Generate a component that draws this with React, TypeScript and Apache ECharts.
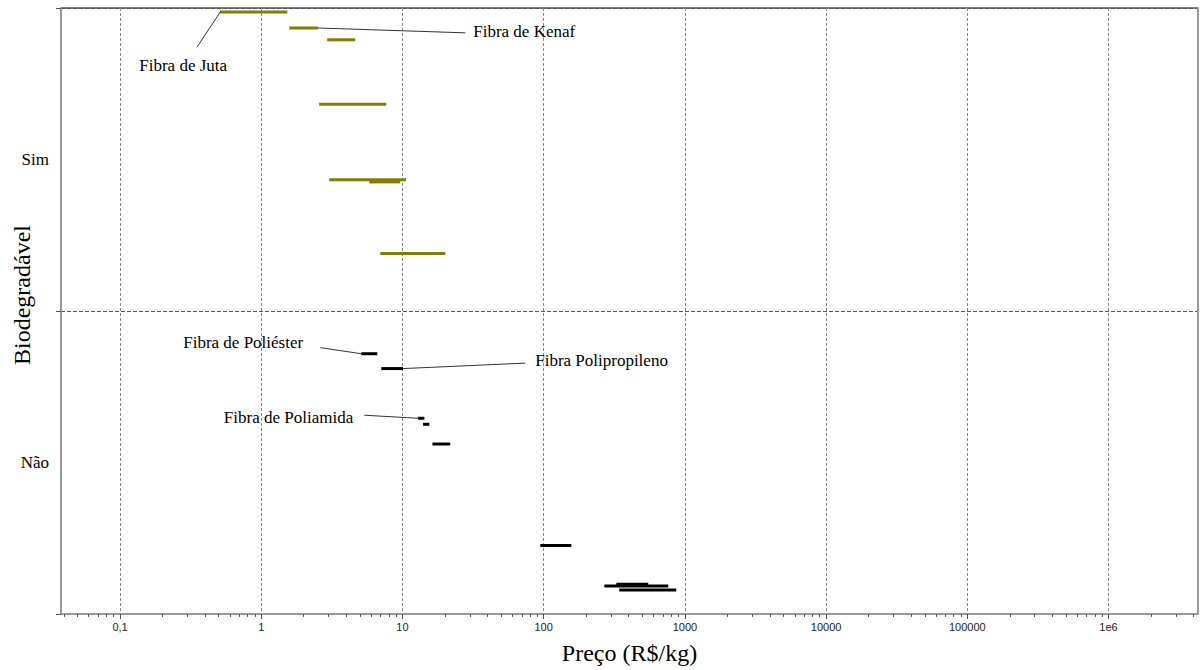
import React, { useEffect, useRef } from "react";
import * as echarts from "echarts";

// ---- data ----
const majorTicks = [0.1, 1, 10, 100, 1000, 10000, 100000, 1000000];
const minorMultipliers = [2, 3, 4, 5, 6, 7, 8, 9];
const minorDecades = [0.01, 0.1, 1, 10, 100, 1000, 10000, 100000, 1000000];
const yCategories = ["Não", "Sim"];

// Biodegradable fibres (Sim)
const bioLow = [0.51, 1.58, 2.93, 2.57, 3.03, 5.82, 6.96];
const bioHigh = [1.53, 2.53, 4.63, 7.68, 10.6, 9.64, 20.1];
const bioLevel = [1.987, 1.934, 1.895, 1.682, 1.433, 1.426, 1.19];

// Non-biodegradable fibres (Não)
const nonBioLow = [5.11, 7.08, 12.9, 14.0, 16.3, 94.6, 269, 327, 343];
const nonBioHigh = [6.63, 10.1, 14.3, 15.5, 21.8, 157, 763, 550, 869];
const nonBioLevel = [0.859, 0.81, 0.646, 0.626, 0.561, 0.226, 0.092, 0.098, 0.079];

// Annotations
const annotNames = ["Fibra de Juta", "Fibra de Kenaf", "Fibra de Poliéster", "Fibra Polipropileno", "Fibra de Poliamida"];
const annotTextX = [0.28, 31.7, 1.98, 87.1, 4.48];
const annotTextY = [1.81, 1.921, 0.895, 0.836, 0.649];
const annotFromX = [0.352, 27.9, 2.62, 74.0, 5.36];
const annotFromY = [1.872, 1.918, 0.879, 0.828, 0.656];
const annotToX = [0.513, 2.53, 5.11, 10.1, 12.9];
const annotToY = [1.987, 1.934, 0.859, 0.81, 0.646];
const annotAlign = ["center", "left", "right", "left", "right"];

const minorTicks: number[] = [];
minorDecades.forEach((d) => minorMultipliers.forEach((m) => minorTicks.push(m * d)));

const X_MIN = 0.0382;
const X_MAX = 4.3e6;

function fmt(v: number): string {
  if (Math.abs(v - 0.1) < 1e-9) return "0,1";
  if (Math.abs(v - 1e6) < 1) return "1e6";
  return String(Math.round(v));
}

function barRender(color: string) {
  return (params: any, api: any) => {
    const p1 = api.coord([api.value(0), api.value(2)]);
    const p2 = api.coord([api.value(1), api.value(2)]);
    return {
      type: "line",
      shape: { x1: p1[0], y1: p1[1], x2: p2[0], y2: p2[1] },
      style: { stroke: color, lineWidth: 3 },
    };
  };
}

export default function App() {
  const ref = useRef<HTMLDivElement>(null);
  useEffect(() => {
    if (!ref.current) return;
    const chart = echarts.init(ref.current, undefined, { renderer: "svg" });
    const serif = "Liberation Serif";
    const option: any = {
      animation: false,
      backgroundColor: "#fff",
      grid: { left: 61, right: 2, top: 8, bottom: 52, show: true, borderColor: "#000", borderWidth: 1, containLabel: false },
      graphic: [
        {
          type: "text",
          x: 22,
          y: 295,
          rotation: Math.PI / 2,
          style: {
            text: "Biodegradável",
            fontFamily: serif,
            fontSize: 24,
            fill: "#000",
            align: "center",
            verticalAlign: "middle",
          },
        },
      ],
      xAxis: [
        {
          type: "log",
          logBase: 10,
          min: X_MIN,
          max: X_MAX,
          axisLine: { show: true, lineStyle: { color: "#999", width: 2 } },
          axisTick: { show: true, customValues: majorTicks, length: 5, lineStyle: { color: "#555" } },
          axisLabel: {
            customValues: majorTicks,
            formatter: fmt,
            fontFamily: "Liberation Sans",
            fontSize: 11,
            color: "#222",
            margin: 7,
          },
          splitLine: { show: true, lineStyle: { color: "#888", width: 1, type: [3, 2] } },
          name: "Preço (R$/kg)",
          nameLocation: "middle",
          nameGap: 27,
          nameTextStyle: { fontFamily: serif, fontSize: 24, color: "#000" },
        },
        {
          type: "log",
          logBase: 10,
          min: X_MIN,
          max: X_MAX,
          position: "bottom",
          axisLine: { show: false },
          axisTick: { show: true, customValues: minorTicks, length: 3, lineStyle: { color: "#555" } },
          axisLabel: { show: false },
          splitLine: { show: false },
        },
      ],
      yAxis: [
        {
          type: "value",
          min: 0,
          max: 2,
          interval: 1,
          axisLine: { show: true, lineStyle: { color: "#999", width: 2 } },
          axisTick: { show: true, length: 5, lineStyle: { color: "#555" } },
          axisLabel: { show: false },
          splitLine: { show: true, lineStyle: { color: "#555", width: 1, type: [4, 2] } },
        },
        {
          type: "value",
          min: 0,
          max: 2,
          position: "right",
          axisLine: { show: true, lineStyle: { color: "#999", width: 2 } },
          axisTick: { show: false },
          axisLabel: { show: false },
          splitLine: { show: false },
        },
        {
          type: "category",
          data: yCategories,
          position: "left",
          axisLine: { show: false },
          axisTick: { show: false },
          axisLabel: { fontFamily: serif, fontSize: 17, color: "#000", margin: 12 },
          splitLine: { show: false },
        },
      ],
      series: [
        {
          type: "custom",
          name: "Sim",
          xAxisIndex: 0,
          yAxisIndex: 0,
          encode: { x: [0, 1], y: 2 },
          renderItem: barRender("#808000"),
          data: bioLow.map((v, i) => [v, bioHigh[i], bioLevel[i]]),
        },
        {
          type: "custom",
          name: "Não",
          xAxisIndex: 0,
          yAxisIndex: 0,
          encode: { x: [0, 1], y: 2 },
          renderItem: barRender("#000"),
          data: nonBioLow.map((v, i) => [v, nonBioHigh[i], nonBioLevel[i]]),
        },
        {
          type: "custom",
          name: "annotations",
          xAxisIndex: 0,
          yAxisIndex: 0,
          encode: { x: [0, 2, 4], y: [1, 3, 5] },
          data: annotNames.map((n, i) => [annotTextX[i], annotTextY[i], annotFromX[i], annotFromY[i], annotToX[i], annotToY[i]]),
          renderItem: (params: any, api: any) => {
            const i = params.dataIndex;
            const t = api.coord([api.value(0), api.value(1)]);
            const a = api.coord([api.value(2), api.value(3)]);
            const b = api.coord([api.value(4), api.value(5)]);
            return {
              type: "group",
              children: [
                {
                  type: "line",
                  shape: { x1: a[0], y1: a[1], x2: b[0], y2: b[1] },
                  style: { stroke: "#333", lineWidth: 1 },
                },
                {
                  type: "text",
                  x: t[0],
                  y: t[1],
                  style: {
                    text: annotNames[i],
                    fontFamily: serif,
                    fontSize: 17,
                    fill: "#000",
                    align: annotAlign[i],
                    verticalAlign: "middle",
                  },
                },
              ],
            };
          },
        },
      ],
    };
    chart.setOption(option);
    return () => chart.dispose();
  }, []);
  return <div ref={ref} style={{ width: 1200, height: 670, position: "absolute", left: 0, top: 0 }} />;
}
